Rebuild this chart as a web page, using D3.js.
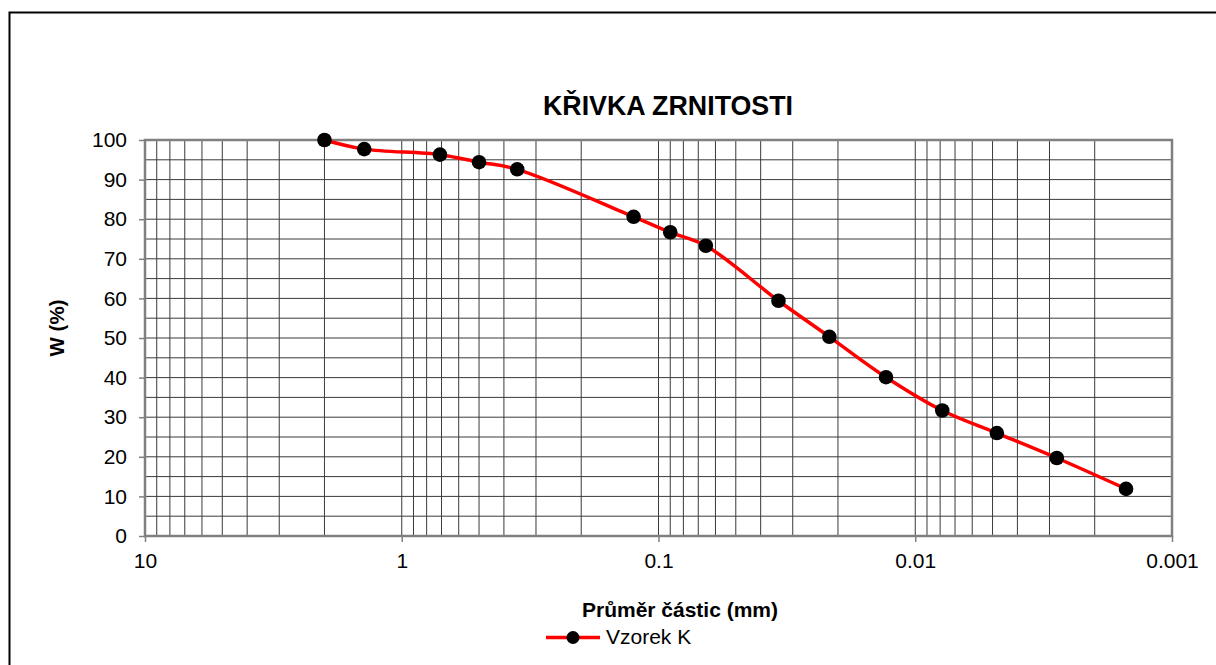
<!DOCTYPE html>
<html><head><meta charset="utf-8">
<script src="https://cdn.jsdelivr.net/npm/d3@7"></script>
<style>body{margin:0;background:#fff}svg{display:block}text{font-family:"Liberation Sans",Arial,sans-serif;fill:#000}</style>
</head><body><svg id="c" width="1216" height="665"></svg>
<script>
const diameters = [2.0, 1.40, 0.71, 0.50, 0.355, 0.125, 0.090, 0.0654, 0.0341, 0.0216, 0.0130, 0.00785, 0.00481, 0.00281, 0.00151];
const passing   = [100, 97.7, 96.3, 94.4, 92.6, 80.6, 76.7, 73.3, 59.4, 50.3, 40.1, 31.7, 26.0, 19.7, 11.9];
const xTickLabels = ["10", "1", "0.1", "0.01", "0.001"];
const xTickValues = [10, 1, 0.1, 0.01, 0.001];
const yTickValues = [0,10,20,30,40,50,60,70,80,90,100];
const title = "KŘIVKA ZRNITOSTI";
const xTitle = "Průměr částic (mm)";
const yTitle = "W (%)";
const seriesName = "Vzorek K";

const svg = d3.select("#c");
const L = 145, R = 1172, T = 140, B = 536;
const x = d3.scaleLog().domain([10, 0.001]).range([L, R]);
const y = d3.scaleLinear().domain([0, 100]).range([B, T]);

// outer frame (only top and left visible)
svg.append("path").attr("d", `M9.5,700 L9.5,12.5 L1300,12.5`).attr("fill","none").attr("stroke","#000").attr("stroke-width",2);

// grid
const g = svg.append("g");
g.selectAll(".vg").data(x.ticks()).join("line")
  .attr("x1", d => x(d)).attr("x2", d => x(d)).attr("y1", T).attr("y2", B)
  .attr("stroke", "#3a3a3a").attr("stroke-width", 1);
g.selectAll(".hg").data(d3.range(0, 101, 5)).join("line")
  .attr("x1", L).attr("x2", R).attr("y1", d => y(d)).attr("y2", d => y(d))
  .attr("stroke", "#3a3a3a").attr("stroke-width", 1);
// plot border
g.append("rect").attr("x", L).attr("y", T).attr("width", R - L).attr("height", B - T)
  .attr("fill", "none").attr("stroke", "#808080").attr("stroke-width", 2.5);

// axes
const yAxis = d3.axisLeft(y).tickValues(yTickValues).tickSize(6).tickPadding(12).tickFormat(d3.format("d"));
const ya = svg.append("g").attr("transform", `translate(${L},0)`).call(yAxis);
ya.select(".domain").remove();
ya.selectAll("line").attr("stroke", "#808080").attr("stroke-width", 1.5);
ya.selectAll("text").attr("font-size", 21).attr("font-family", '"Liberation Sans",Arial,sans-serif').attr("fill","#000");

const xAxis = d3.axisBottom(x).tickValues(xTickValues).tickSize(6).tickPadding(11)
  .tickFormat((d, i) => xTickLabels[i]);
const xa = svg.append("g").attr("transform", `translate(0,${B})`).call(xAxis);
xa.select(".domain").remove();
xa.selectAll("line").attr("stroke", "#808080").attr("stroke-width", 1.5);
xa.selectAll("text").attr("font-size", 21).attr("font-family", '"Liberation Sans",Arial,sans-serif').attr("fill","#000");

// series
const pts = diameters.map((d, i) => [x(d), y(passing[i])]);
svg.append("path").attr("d", d3.line().curve(d3.curveCatmullRom.alpha(0.5))(pts))
  .attr("fill", "none").attr("stroke", "#ff0000").attr("stroke-width", 3.5);
svg.selectAll(".pt").data(pts).join("circle")
  .attr("cx", d => d[0]).attr("cy", d => d[1]).attr("r", 7.3).attr("fill", "#000");

// titles
svg.append("text").attr("x", 668).attr("y", 115).attr("text-anchor", "middle")
  .attr("font-size", 26.8).attr("font-weight", "bold").text(title);
svg.append("text").attr("x", 680).attr("y", 617).attr("text-anchor", "middle")
  .attr("font-size", 21).attr("font-weight", "bold").text(xTitle);
svg.append("text").attr("transform", "translate(64,328) rotate(-90)").attr("text-anchor", "middle")
  .attr("font-size", 20.5).attr("font-weight", "bold").text(yTitle);

// legend
const lg = svg.append("g");
lg.append("line").attr("x1", 546).attr("x2", 600).attr("y1", 637.5).attr("y2", 637.5)
  .attr("stroke", "#ff0000").attr("stroke-width", 3.5);
lg.append("circle").attr("cx", 573).attr("cy", 637.5).attr("r", 6.5).attr("fill", "#000");
lg.append("text").attr("x", 606).attr("y", 644).attr("font-size", 21).text(seriesName);
</script></body></html>
